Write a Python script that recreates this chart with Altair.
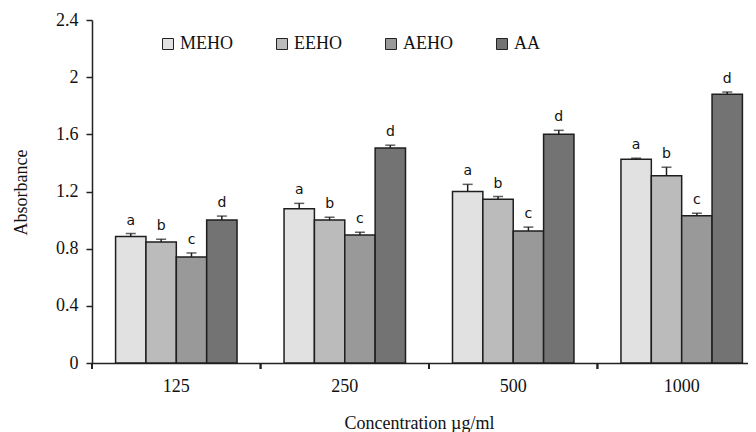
import altair as alt
import pandas as pd

concentrations = ["125", "250", "500", "1000"]
series = ["MEHO", "EEHO", "AEHO", "AA"]
letters = ["a", "b", "c", "d"]
colors = ["#e1e1e1", "#bbbbbb", "#999999", "#737373"]

meho = [0.886, 1.08, 1.20, 1.425]
eeho = [0.846, 1.00, 1.145, 1.31]
aeho = [0.742, 0.895, 0.923, 1.03]
aa = [1.00, 1.505, 1.60, 1.88]

meho_err = [0.02, 0.037, 0.05, 0.008]
eeho_err = [0.02, 0.02, 0.02, 0.06]
aeho_err = [0.028, 0.02, 0.028, 0.018]
aa_err = [0.028, 0.019, 0.028, 0.016]

values = [meho, eeho, aeho, aa]
errors = [meho_err, eeho_err, aeho_err, aa_err]

rows = []
for si, s in enumerate(series):
    for ci, c in enumerate(concentrations):
        v = values[si][ci]
        e = errors[si][ci]
        rows.append({"conc": c, "series": s, "value": v, "upper": v + e,
                     "letter": letters[si], "order": si})
df = pd.DataFrame(rows)

SERIF = "Liberation Serif"

x_scale = alt.Scale(domain=concentrations, paddingInner=0.279, paddingOuter=0.14)
xo_scale = alt.Scale(domain=series, paddingInner=0, paddingOuter=0)

x_enc = alt.X("conc:N", sort=concentrations, scale=x_scale,
              axis=alt.Axis(title="Concentration \u00b5g/ml", labelAngle=0, ticks=False,
                            titleX=327, titleY=51))
xo_enc = alt.XOffset("series:N", sort=series, scale=xo_scale)
y_scale = alt.Scale(domain=[0, 2.4], nice=False)

bars = alt.Chart(df).mark_bar(stroke="#1e1e1e", strokeWidth=1.5).encode(
    x=x_enc,
    xOffset=xo_enc,
    y=alt.Y("value:Q", scale=y_scale,
            axis=alt.Axis(title="Absorbance", values=[0, 0.4, 0.8, 1.2, 1.6, 2, 2.4],
                          format=".1~f", titleX=-62, titleY=172)),
    color=alt.Color("series:N", sort=series,
                    scale=alt.Scale(domain=series, range=colors),
                    legend=alt.Legend(title=None, orient="none", direction="horizontal",
                                      columns=4, legendX=67, legendY=15,
                                      symbolType="square", symbolSize=121,
                                      symbolStrokeColor="#222", symbolStrokeWidth=1,
                                      symbolOpacity=1,
                                      labelFont=SERIF, labelFontSize=18, labelColor="#111",
                                      labelOffset=3, columnPadding=40, padding=0)),
)

x_plain = alt.X("conc:N", sort=concentrations, scale=x_scale)
xo_plain = alt.XOffset("series:N", sort=series, scale=xo_scale)

err = alt.Chart(df).mark_rule(color="#1e1e1e", strokeWidth=1.5).encode(
    x=x_plain, xOffset=xo_plain,
    y="value:Q",
    y2="upper:Q",
)

caps = alt.Chart(df).mark_tick(color="#1e1e1e", thickness=1.5, size=10, orient="horizontal").encode(
    x=x_plain, xOffset=xo_plain,
    y="upper:Q",
)

labels = alt.Chart(df).mark_text(font="DejaVu Sans", fontSize=14, color="#111",
                                 baseline="bottom", dy=-6).encode(
    x=x_plain, xOffset=xo_plain,
    y="upper:Q",
    text="letter:N",
)

# category-boundary ticks on the x axis (between groups)
xticks = alt.Chart(df).mark_rule(color="#222", strokeWidth=1.5, xOffset=-23.5).encode(
    x=alt.X("conc:N", sort=concentrations, scale=x_scale, bandPosition=0),
    y=alt.value(343), y2=alt.value(349),
)

chart = alt.layer(bars, err, caps, labels, xticks).properties(
    width=674, height=343,
    autosize=alt.AutoSizeParams(type="none"),
    padding={"left": 84, "top": 12, "right": -18, "bottom": 69},
).configure_view(stroke=None).configure_axis(
    labelFont=SERIF, labelFontSize=18, labelColor="#111",
    titleFont=SERIF, titleFontSize=18, titleFontWeight="normal", titleColor="#111",
    domainColor="#222", domainWidth=1.5, tickColor="#222", tickWidth=1.5,
    grid=False,
).configure_axisY(tickSize=6, labelPadding=8).configure_axisX(labelPadding=14)

chart.save("out.html", embed_options={"renderer": "svg", "actions": False})
